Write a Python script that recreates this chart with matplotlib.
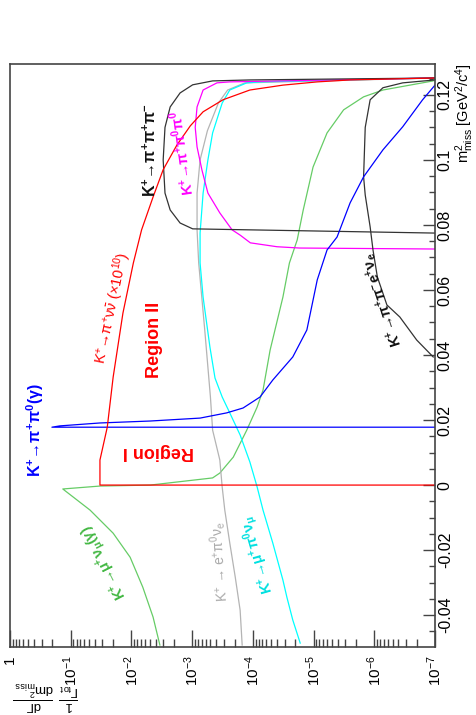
import matplotlib
matplotlib.use("Agg")
import matplotlib.pyplot as plt
from matplotlib.ticker import MultipleLocator, FixedLocator, FuncFormatter, NullFormatter
import numpy as np

plt.rcParams['font.family'] = ['Liberation Sans', 'DejaVu Sans']
plt.rcParams['mathtext.fontset'] = 'custom'
plt.rcParams['mathtext.rm'] = 'Liberation Sans'
plt.rcParams['mathtext.it'] = 'Liberation Sans:italic'
plt.rcParams['mathtext.bf'] = 'Liberation Sans:bold'
plt.rcParams['mathtext.default'] = 'regular'
plt.rcParams['axes.unicode_minus'] = False

# m2_miss [GeV^2/c^4] and 1/Gamma dGamma/dm2 for each decay channel
pnn_m2 = [0.0, 0.0, 0.0077, 0.0178, 0.0332, 0.0529, 0.0683, 0.0785, 0.0886, 0.097, 0.1046,
          0.1105, 0.1148, 0.1185, 0.1215, 0.123, 0.124, 0.1246, 0.1252]
pnn_val = [1e-7, 3.3e-2, 3.3e-2, 2.5e-2, 2.0e-2, 1.38e-2, 9.3e-3, 6.8e-3, 4.4e-3, 3.0e-3, 1.78e-3,
           1.07e-3, 6.6e-4, 3.1e-4, 1.12e-4, 3.2e-5, 8.7e-6, 2.5e-6, 1.0e-7]

pipi0_m2 = [0.0178, 0.0178, 0.0182, 0.0191, 0.0197, 0.0206, 0.0222, 0.0237, 0.0271, 0.0323, 0.0394,
            0.0477, 0.0631, 0.0723, 0.0763, 0.0868, 0.0948, 0.1031, 0.1102, 0.1185, 0.123]
pipi0_val = [1e-7, 0.204, 0.151, 3.3e-2, 4.9e-3, 7.4e-4, 2.7e-4, 1.45e-4, 7.6e-5, 4.7e-5, 2.2e-5,
             1.29e-5, 8.7e-6, 6.0e-6, 4.1e-6, 2.5e-6, 1.5e-6, 7.2e-7, 3.4e-7, 1.6e-7, 1.0e-7]

k3pi_m2 = [0.0775, 0.0788, 0.0806, 0.0846, 0.0898, 0.100, 0.110, 0.1163, 0.1206, 0.1231, 0.1243,
           0.1246, 0.1252]
k3pi_val = [1e-7, 9.8e-4, 1.58e-3, 2.3e-3, 2.8e-3, 3.0e-3, 2.8e-3, 2.3e-3, 1.58e-3, 9.8e-4, 4.6e-4,
            1.12e-4, 1.0e-7]

k3pi0_m2 = [0.0726, 0.0729, 0.0733, 0.0745, 0.0768, 0.0785, 0.0837, 0.0898, 0.0969, 0.104, 0.110,
            0.1163, 0.1215, 0.1237, 0.124, 0.1252]
k3pi0_val = [1e-7, 1.7e-5, 4.0e-5, 1.1e-4, 1.6e-4, 2.2e-4, 3.5e-4, 5.5e-4, 6.9e-4, 8.3e-4, 8.9e-4,
             8.3e-4, 6.6e-4, 3.9e-4, 2.4e-4, 1.0e-7]

kmu3_m2 = [-0.0486, -0.0415, -0.0345, -0.0292, -0.0178, -0.0077, -0.0006, 0.0071, 0.0154, 0.0222,
           0.0271, 0.0329, 0.0425, 0.0578, 0.0683, 0.0775, 0.0898, 0.100, 0.1083, 0.1175, 0.1215,
           0.1237, 0.124, 0.1252]
kmu3_val = [1.66e-5, 2.2e-5, 2.75e-5, 3.2e-5, 4.7e-5, 6.8e-5, 8.5e-5, 1.12e-4, 1.62e-4, 2.4e-4,
            3.2e-4, 4.2e-4, 5.1e-4, 6.6e-4, 7.4e-4, 7.4e-4, 6.6e-4, 5.5e-4, 4.6e-4, 3.2e-4, 2.4e-4,
            1.26e-4, 7.6e-5, 1.0e-7]

ke3_m2 = [-0.0492, -0.0385, -0.0283, -0.0178, -0.0077, -0.0006, 0.0077, 0.0169, 0.0271, 0.0477,
          0.0683, 0.0785, 0.0898, 0.100, 0.109, 0.1175, 0.1215, 0.1237, 0.1252]
ke3_val = [1.5e-4, 1.62e-4, 1.95e-4, 2.4e-4, 2.9e-4, 3.2e-4, 3.5e-4, 4.6e-4, 5.0e-4, 6.2e-4,
           7.8e-4, 8.3e-4, 8.3e-4, 7.4e-4, 5.6e-4, 3.7e-4, 2.6e-4, 1.35e-4, 1.0e-7]

kmu2_m2 = [-0.0492, -0.0406, -0.0314, -0.0222, -0.0148, -0.0077, -0.0012, -0.0003, 0.0, 0.0022,
           0.0037, 0.0086, 0.0169, 0.024, 0.0292, 0.0415, 0.0578, 0.0683, 0.0754, 0.0846, 0.0978,
           0.1083, 0.1154, 0.1194, 0.1215, 0.123, 0.1243, 0.1252]
kmu2_val = [3.4e-3, 4.4e-3, 6.5e-3, 1.05e-2, 2.0e-2, 4.8e-2, 0.135, 3.3e-2, 4.9e-3, 4.6e-4,
            3.5e-4, 2.1e-4, 1.26e-4, 8.5e-5, 6.8e-5, 5.2e-5, 3.2e-5, 2.5e-5, 1.86e-5, 1.48e-5,
            1.02e-5, 6.0e-6, 3.2e-6, 1.5e-6, 7.2e-7, 2.6e-7, 1.07e-7, 1.0e-7]

ke4_m2 = [0.0394, 0.0446, 0.0517, 0.0554, 0.064, 0.0723, 0.0794, 0.0892, 0.0948, 0.110, 0.1185,
          0.1222, 0.1237, 0.1246]
ke4_val = [1.07e-7, 2.0e-7, 3.8e-7, 6.2e-7, 8.9e-7, 1.05e-6, 1.17e-6, 1.41e-6, 1.5e-6, 1.41e-6,
           1.17e-6, 7.2e-7, 3.4e-7, 1.0e-7]

decades = [0, -1, -2, -3, -4, -5, -6, -7]
m2_ticks = [-0.04, -0.02, 0, 0.02, 0.04, 0.06, 0.08, 0.1, 0.12]

green = '#66cc66'
gray = '#b4b4b4'

fig = plt.figure(figsize=(4.76, 7.15), dpi=100)
ax = fig.add_axes([10/476, 1 - 647/715, 425/476, 583/715])

ax.plot(kmu2_val, kmu2_m2, color=green, lw=0.9)
ax.plot(ke3_val, ke3_m2, color=gray, lw=0.9)
ax.plot(kmu3_val, kmu3_m2, color='#00ffff', lw=0.9)
ax.plot(k3pi0_val, k3pi0_m2, color='#ff00ff', lw=0.9)
ax.plot(k3pi_val, k3pi_m2, color='#333333', lw=0.9)
ax.plot(ke4_val, ke4_m2, color='#333333', lw=0.9)
ax.plot(pipi0_val, pipi0_m2, color='#0000ff', lw=0.9)
ax.plot(pnn_val, pnn_m2, color='#ff0000', lw=0.9)

ax.set_xscale('log')
ax.set_xlim(1, 1e-7)
ax.set_ylim(-0.0498, 0.1295)

# log axis (bottom)
major_x = [10.0 ** d for d in decades]
minor_x = [k * 10.0 ** d for d in decades[1:] for k in range(2, 10)]
ax.xaxis.set_major_locator(FixedLocator(major_x))
ax.xaxis.set_minor_locator(FixedLocator(minor_x))
ax.xaxis.set_minor_formatter(NullFormatter())
ax.xaxis.set_major_formatter(FuncFormatter(
    lambda v, p: '1' if abs(v - 1) < 1e-9 else r'$10^{%d}$' % round(np.log10(v))))
ax.tick_params(axis='x', which='both', direction='in', top=False, bottom=True,
               labelrotation=90, labelsize=11, pad=6, color='#444444')
ax.tick_params(axis='x', which='major', length=12, width=1)
ax.tick_params(axis='x', which='minor', length=6, width=1)

# m2 axis (right)
ax.yaxis.tick_right()
ax.yaxis.set_major_locator(FixedLocator(m2_ticks))
ax.yaxis.set_minor_locator(MultipleLocator(0.005))
ax.yaxis.set_major_formatter(FuncFormatter(lambda v, p: '%g' % round(v, 3)))
ax.tick_params(axis='y', which='both', direction='in', left=False, right=True,
               labelleft=False, labelright=True, labelrotation=90, labelsize=11.5, pad=2,
               color='#444444')
ax.tick_params(axis='y', which='major', length=9, width=1)
ax.tick_params(axis='y', which='minor', length=4.5, width=1)
for lab in ax.get_yticklabels():
    lab.set_va('center')

for s in ax.spines.values():
    s.set_color('#444444')
    s.set_linewidth(1.2)

def label(x, y, s, rot, color, weight='bold', size=11):
    ax.text(x, y, s, rotation=rot, rotation_mode='anchor', ha='center', va='center',
            color=color, fontweight=weight, fontsize=size)

label(0.39, 0.0169, 'K$^{+}$→π$^{+}$π$^{0}$(γ)', 90, '#0000ff', size=11.5)
label(3.6e-3, 0.0102, 'Region I', 180, '#ff0000', size=13)
label(4.1e-3, 0.0446, 'Region II', 90, '#ff0000', size=13)
label(0.021, 0.0545, r'K$^{+}$→π$^{+}$ν$\bar{\nu}$ (×10$^{10}$)', 78, '#ff0000', weight='normal', size=10.5)
label(4.9e-3, 0.103, 'K$^{+}$→π$^{+}$π$^{+}$π$^{-}$', 90, '#111111', size=11.5)
label(1.5e-3, 0.102, 'K$^{+}$→π$^{+}$π$^{0}$π$^{0}$', 98, '#ff00ff', size=10.5)
label(7.2e-7, 0.0569, 'K$^{+}$→π$^{+}$π$^{-}$e$^{+}$ν$_{e}$', 108, '#111111', size=10.5)
label(0.0272, -0.0237, r'K$^{+}$→μ$^{+}$ν$_{\mu}$(γ)', 117, '#44b844', size=10.5)
label(3.5e-4, -0.0234, 'K$^{+}$ → e$^{+}$π$^{0}$ν$_{e}$', 94, '#aaaaaa', weight='normal', size=10)
label(8.2e-5, -0.0212, r'K$^{+}$→μ$^{+}$π$^{0}$ν$_{\mu}$', 106, '#00e0e0', size=10.5)

fig.text(465/476, 1 - 63/715, 'm$^{2}_{miss}$ [GeV$^{2}$/c$^{4}$]', rotation=90,
         ha='center', va='top', fontsize=10.5)
fig.text(46/476, 1 - 713/715, r'$\frac{1}{\Gamma_{tot}}\ \frac{d\Gamma}{dm^{2}_{miss}}$',
         rotation=180, ha='center', va='bottom', fontsize=13.5)

fig.savefig('out.png', dpi=100)
